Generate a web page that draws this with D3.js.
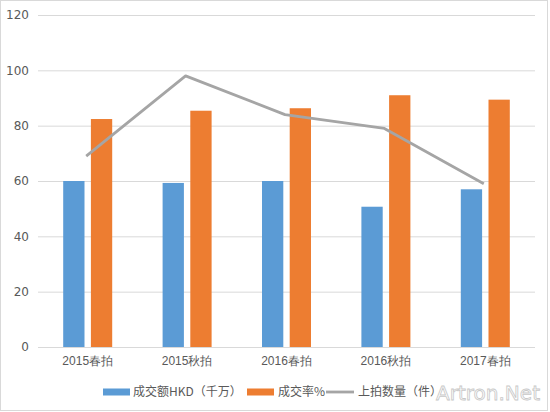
<!DOCTYPE html>
<html>
<head>
<meta charset="utf-8">
<script src="https://cdn.jsdelivr.net/npm/d3@7"></script>
<style>
  html, body { margin: 0; padding: 0; background: #fff; }
  svg { display: block; font-family: "Noto Sans CJK SC", "Microsoft YaHei", sans-serif; }
</style>
</head>
<body>
<div id="wrapper"></div>
<script>
const categories = ['2015春拍', '2015秋拍', '2016春拍', '2016秋拍', '2017春拍']
const turnover = [60, 59.3, 60, 50.7, 57]
const sellRate = [82.4, 85.4, 86.3, 91, 89.4]
const lotCount = [69, 98, 84, 79, 59]
const yTicks = [0, 20, 40, 60, 80, 100, 120]
const seriesNames = ['成交额HKD（千万）', '成交率%', '上拍数量（件）']

const colors = { blue: '#5B9BD5', orange: '#ED7D31', gray: '#A5A5A5', grid: '#D9D9D9', text: '#595959' }

const width = 550
const height = 412
const plot = { left: 38, right: 535, top: 15, bottom: 347 }

const svg = d3.select('#wrapper')
    .append('svg')
    .attr('width', width)
    .attr('height', height)

// chart frame
svg.append('rect')
    .attr('x', 0.5).attr('y', 0.5)
    .attr('width', width - 3).attr('height', height - 2)
    .attr('fill', '#fff')
    .attr('stroke', colors.grid)

const xScale = d3.scaleBand()
    .domain(categories)
    .range([plot.left, plot.right])

const yScale = d3.scaleLinear()
    .domain([0, 120])
    .range([plot.bottom, plot.top])

const inner = d3.scaleBand()
    .domain(['turnover', 'rate'])
    .range([-24.5, 24.5])
    .paddingInner(0.231)

// gridlines + y labels
const yAxis = svg.append('g')
    .attr('transform', `translate(${plot.left},0)`)
    .call(d3.axisLeft(yScale).tickValues(yTicks).tickSize(-(plot.right - plot.left)).tickPadding(9))
yAxis.select('.domain').remove()
yAxis.selectAll('.tick line').attr('stroke', colors.grid)
yAxis.selectAll('.tick text')
    .attr('fill', colors.text)
    .style('font-size', '12px')
    .style('font-family', '"DejaVu Sans", sans-serif')

// x labels
const xAxis = svg.append('g')
    .attr('transform', `translate(0,${plot.bottom})`)
    .call(d3.axisBottom(xScale).tickSize(0).tickPadding(9))
xAxis.select('.domain').remove()
xAxis.selectAll('.tick text')
    .attr('fill', colors.text)
    .style('font-size', '12px')

const center = c => xScale(c) + xScale.bandwidth() / 2

// bars
svg.append('g').selectAll('rect')
    .data(categories)
    .join('rect')
    .attr('x', c => center(c) + inner('turnover'))
    .attr('y', (c, i) => yScale(turnover[i]))
    .attr('width', inner.bandwidth())
    .attr('height', (c, i) => yScale(0) - yScale(turnover[i]))
    .attr('fill', colors.blue)

svg.append('g').selectAll('rect')
    .data(categories)
    .join('rect')
    .attr('x', c => center(c) + inner('rate'))
    .attr('y', (c, i) => yScale(sellRate[i]))
    .attr('width', inner.bandwidth())
    .attr('height', (c, i) => yScale(0) - yScale(sellRate[i]))
    .attr('fill', colors.orange)

// line
const lineGenerator = d3.line()
    .x((d, i) => center(categories[i]) - 1.5)
    .y(d => yScale(d))

svg.append('path')
    .attr('d', lineGenerator(lotCount))
    .attr('fill', 'none')
    .attr('stroke', colors.gray)
    .attr('stroke-width', 2.8)
    .attr('stroke-linejoin', 'round')

// legend
const legendY = 392
const legend = svg.append('g').style('font-size', '12px')

legend.append('rect').attr('x', 103).attr('y', legendY - 3.5).attr('width', 27).attr('height', 7).attr('fill', colors.blue)
legend.append('text').attr('x', 133).attr('y', legendY).attr('dy', '0.35em').attr('fill', colors.text).text(seriesNames[0])

legend.append('rect').attr('x', 247).attr('y', legendY - 3.5).attr('width', 27).attr('height', 7).attr('fill', colors.orange)
legend.append('text').attr('x', 278).attr('y', legendY).attr('dy', '0.35em').attr('fill', colors.text).text(seriesNames[1])

legend.append('line').attr('x1', 326).attr('x2', 354).attr('y1', legendY).attr('y2', legendY)
    .attr('stroke', colors.gray).attr('stroke-width', 2.8)
legend.append('text').attr('x', 358).attr('y', legendY).attr('dy', '0.35em').attr('fill', colors.text).text(seriesNames[2])

// watermark
svg.append('text')
    .attr('x', 436).attr('y', 400)
    .attr('textLength', 104)
    .attr('lengthAdjust', 'spacingAndGlyphs')
    .attr('fill', '#fff')
    .attr('fill-opacity', 0.6)
    .attr('stroke', '#c8c8c8')
    .attr('stroke-width', 0.8)
    .style('font-family', '"DejaVu Sans", sans-serif')
    .style('font-size', '20px')
    .text('Artron.Net')
</script>
</body>
</html>
